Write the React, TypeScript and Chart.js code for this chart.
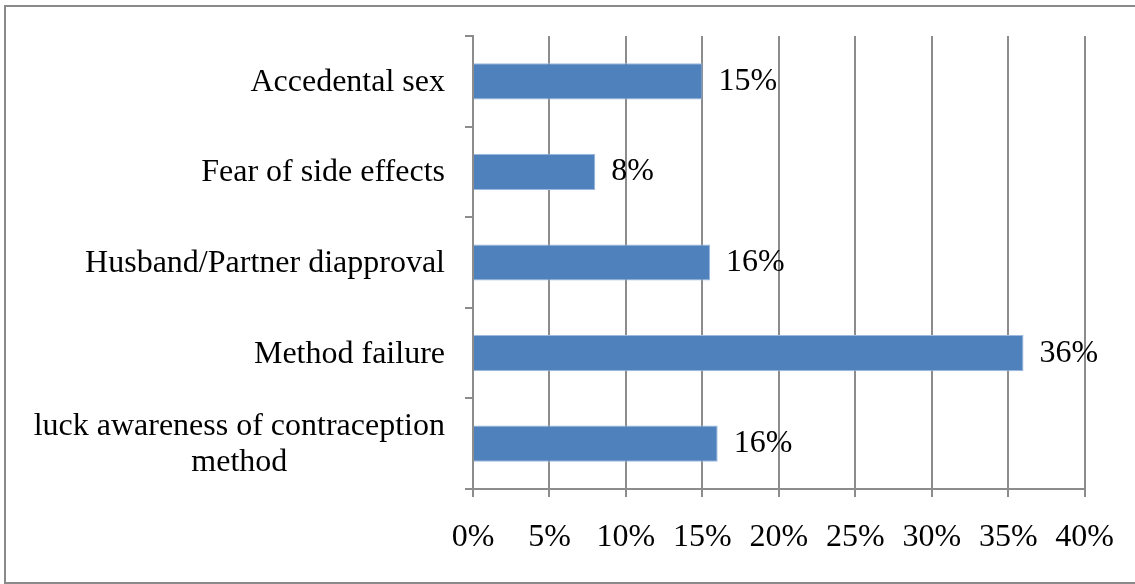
import React, { useEffect, useRef } from "react";
import { Chart, registerables } from "chart.js";

Chart.register(...registerables);

const categories: (string | string[])[] = [
  "Accedental sex",
  "Fear of side effects",
  "Husband/Partner diapproval",
  "Method failure",
  ["luck awareness of contraception", "method"],
];
const values: number[] = [15, 8, 15.5, 36, 16];
const xTicks: number[] = [0, 5, 10, 15, 20, 25, 30, 35, 40];

const FONT = "'Liberation Serif', 'Times New Roman', serif";
const FONT_SIZE = 32;
const GRID = "#8c8c8c";

const labelPlugin = {
  id: "customLabels",
  afterDraw(chart: any) {
    const ctx = chart.ctx;
    const yScale = chart.scales.y;
    const xScale = chart.scales.x;
    ctx.save();
    ctx.fillStyle = "#000";
    ctx.font = `${FONT_SIZE}px ${FONT}`;
    ctx.textBaseline = "middle";
    const right = chart.chartArea.left - 28;
    const lh = 36;
    categories.forEach((c, i) => {
      const lines = Array.isArray(c) ? c : [c];
      const y = yScale.getPixelForValue(i) + 1;
      const maxW = Math.max(...lines.map((l) => ctx.measureText(l).width));
      const cx = right - maxW / 2;
      ctx.textAlign = "center";
      lines.forEach((l, k) => {
        ctx.fillText(l, cx, y + (k - (lines.length - 1) / 2) * lh);
      });
    });
    ctx.textAlign = "left";
    values.forEach((v, i) => {
      const x = xScale.getPixelForValue(v) + 16;
      const y = yScale.getPixelForValue(i);
      ctx.fillText(Math.round(v) + "%", x, y);
    });
    ctx.restore();
  },
};

export default function App() {
  const ref = useRef<HTMLCanvasElement>(null);
  useEffect(() => {
    document.body.style.margin = "0";
    const chart = new Chart(ref.current as HTMLCanvasElement, {
      type: "bar",
      data: {
        labels: categories.map((c) => (Array.isArray(c) ? c.join(" ") : c)),
        datasets: [
          {
            data: values,
            backgroundColor: "#4F81BD",
            borderColor: "#9DB9DD",
            borderWidth: 1,
            barPercentage: 0.4,
            categoryPercentage: 1,
          },
        ],
      },
      options: {
        indexAxis: "y",
        responsive: false,
        animation: false,
        layout: { padding: { top: 36, right: 50, left: 0, bottom: 0 } },
        plugins: { legend: { display: false }, tooltip: { enabled: false } },
        scales: {
          x: {
            type: "linear",
            min: 0,
            max: 40,
            afterBuildTicks: (scale: any) => {
              scale.ticks = xTicks.map((v) => ({ value: v }));
            },
            afterFit: (scale: any) => {
              scale.height = 95;
            },
            ticks: {
              callback: (v: any) => v + "%",
              color: "#000",
              font: { family: FONT, size: FONT_SIZE },
              padding: 21,
              maxRotation: 0,
              autoSkip: false,
            },
            grid: {
              color: GRID,
              lineWidth: 2,
              tickLength: 8,
              drawTicks: true,
            },
            border: { display: true, color: GRID, width: 2 },
          },
          y: {
            type: "category",
            offset: true,
            afterFit: (scale: any) => {
              scale.width = 473;
            },
            ticks: { display: false },
            grid: {
              offset: true,
              drawOnChartArea: false,
              drawTicks: true,
              tickLength: 8,
              color: GRID,
              lineWidth: 2,
            },
            border: { display: true, color: GRID, width: 2 },
          },
        },
      },
      plugins: [labelPlugin],
    } as any);
    return () => chart.destroy();
  }, []);
  return (
    <div style={{ position: "absolute", left: 0, top: 0, width: 1135, height: 584, overflow: "hidden", background: "#fff" }}>
      <canvas ref={ref} width={1135} height={584} style={{ display: "block", width: 1135, height: 584 }} />
      <div
        style={{
          position: "absolute",
          left: 4,
          top: 5,
          width: 1140,
          height: 575,
          border: "2px solid #8a8a8a",
          pointerEvents: "none",
        }}
      />
    </div>
  );
}
